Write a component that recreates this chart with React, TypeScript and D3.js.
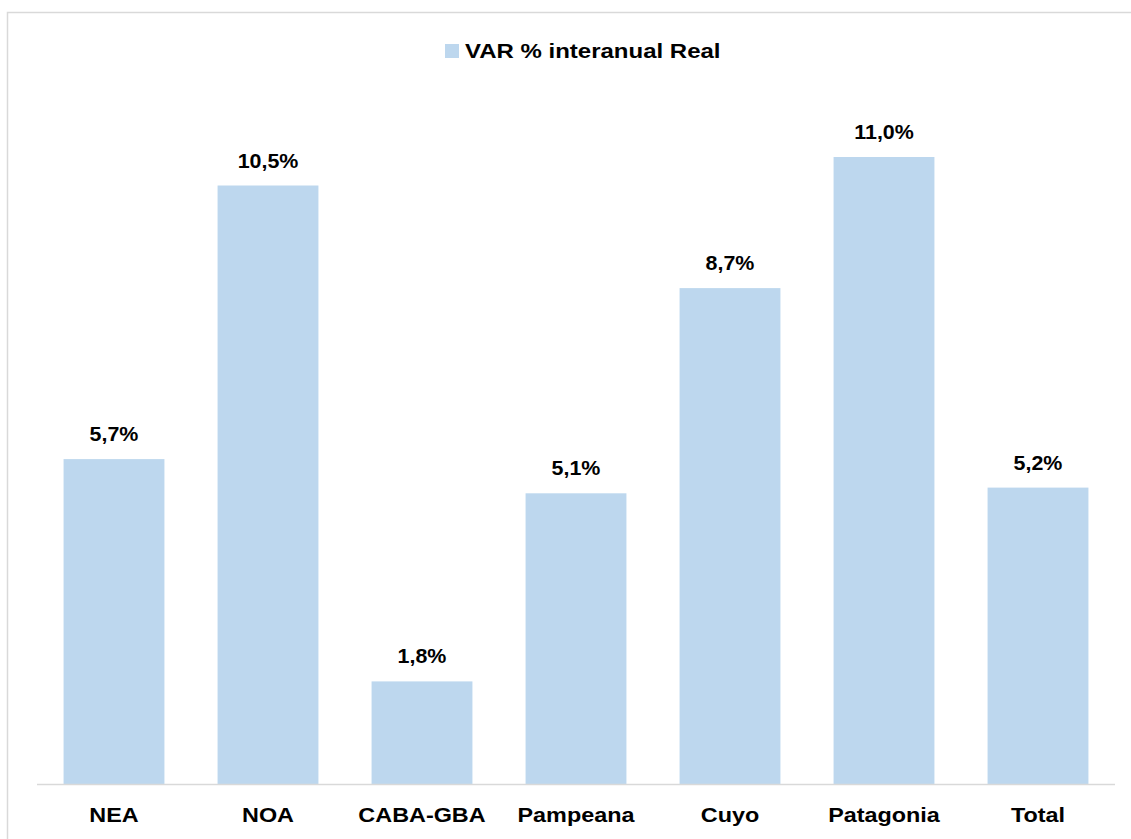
import React from "react";
import * as d3 from "d3";

const categories = ["NEA", "NOA", "CABA-GBA", "Pampeana", "Cuyo", "Patagonia", "Total"];
const values = [5.7, 10.5, 1.8, 5.1, 8.7, 11.0, 5.2];
const legendLabel = "VAR % interanual Real";

const W = 1131;
const H = 839;
const BAR = "#BDD7EE";
const FONT = "'Liberation Sans', Arial, sans-serif";

export default function App() {
  const x = d3.scaleBand<string>().domain(categories).range([37, 1115]).paddingInner(0.345).paddingOuter(0.1725);
  const y = d3.scaleLinear().domain([0, 12]).range([784, 100]);
  const fmt = (v: number) => v.toFixed(1).replace(".", ",") + "%";
  return (
    <svg width={W} height={H} style={{ position: "absolute", left: 0, top: 0 }}>
      <rect x={0} y={0} width={W} height={H} fill="#fff" />
      <path d="M7.5,839 L7.5,12.5 L1131,12.5" fill="none" stroke="#D9D9D9" strokeWidth={1.5} />
      <rect x={445} y={44} width={14} height={14} fill={BAR} />
      <g transform="translate(465,57.5) scale(1.2,1)">
        <text x={0} y={0} fontFamily={FONT} fontWeight="bold" fontSize={20} fill="#000">{legendLabel}</text>
      </g>
      {categories.map((c, i) => {
        const cx = (x(c) as number) + x.bandwidth() / 2;
        return (
          <g key={c}>
            <rect x={x(c)} y={y(values[i])} width={x.bandwidth()} height={y(0) - y(values[i])} fill={BAR} />
            <g transform={`translate(${cx},${y(values[i]) - 18}) scale(1.02,1)`}>
              <text x={0} y={0} textAnchor="middle" fontFamily={FONT} fontWeight="bold" fontSize={21} fill="#000">{fmt(values[i])}</text>
            </g>
            <g transform={`translate(${cx},822) scale(1.17,1)`}>
              <text x={0} y={0} textAnchor="middle" fontFamily={FONT} fontWeight="bold" fontSize={20} fill="#000">{c}</text>
            </g>
          </g>
        );
      })}
      <line x1={37} x2={1115} y1={784.5} y2={784.5} stroke="#D9D9D9" strokeWidth={1.5} />
    </svg>
  );
}
